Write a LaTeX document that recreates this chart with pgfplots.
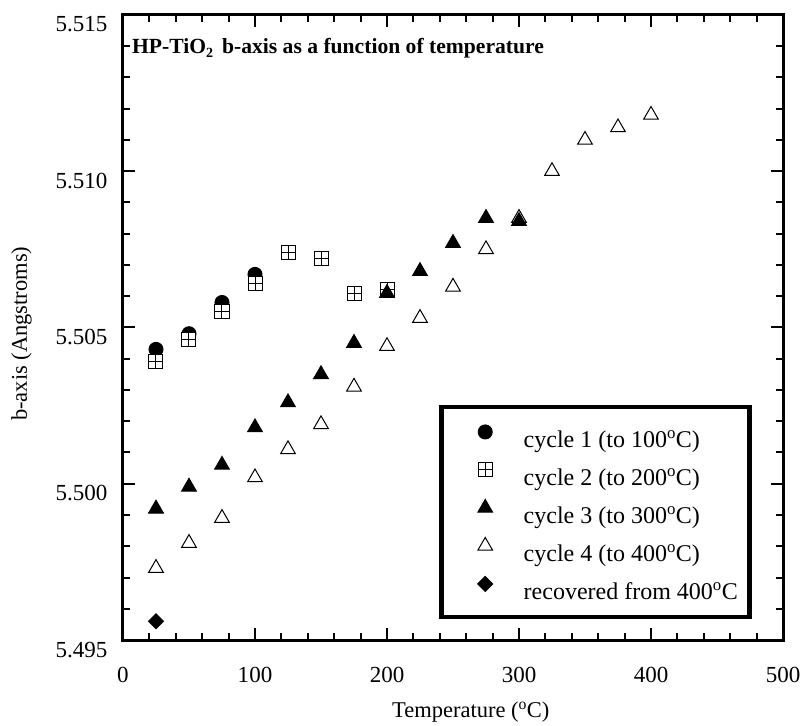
\documentclass[border=0pt]{standalone}
\usepackage{fontspec}
\setmainfont{Liberation Serif}
\usepackage{pgfplots}
\pgfplotsset{compat=1.18}

% open square with a cross, as used for cycle 2
\pgfdeclareplotmark{boxplus}{%
  \pgfpathrectangle{\pgfpoint{-\pgfplotmarksize}{-\pgfplotmarksize}}{\pgfpoint{2\pgfplotmarksize}{2\pgfplotmarksize}}%
  \pgfusepathqfillstroke
  \pgfpathmoveto{\pgfpoint{-\pgfplotmarksize}{0pt}}\pgfpathlineto{\pgfpoint{\pgfplotmarksize}{0pt}}%
  \pgfpathmoveto{\pgfpoint{0pt}{-\pgfplotmarksize}}\pgfpathlineto{\pgfpoint{0pt}{\pgfplotmarksize}}%
  \pgfusepathqstroke}

\pgfplotsset{
  pt/.style={only marks, black, line width=1pt,
    legend image code/.code={%
      \path (-23pt,4pt) (17pt,4pt);
      \draw[mark repeat=2,mark phase=2,##1] plot coordinates {(0pt,4pt)(8.5pt,4pt)(17pt,4pt)};}},
}

\begin{document}
\begin{tikzpicture}
\useasboundingbox (-123pt,-85pt) rectangle (682pt,640pt);
\begin{axis}[
    scale only axis,
    width=660pt, height=625pt,
    xmin=0, xmax=500,
    ymin=5.495, ymax=5.515,
    xtick={0,100,200,300,400,500},
    ytick={5.495,5.5,5.505,5.51,5.515},
    minor x tick num=4,
    minor y tick num=4,
    scaled y ticks=false,
    tick align=inside,
    major tick length=12pt,
    minor tick length=7pt,
    every tick/.style={black, line width=2pt},
    axis line style={line width=3pt},
    /pgf/number format/assume math mode=true,
    y tick label style={/pgf/number format/fixed, /pgf/number format/fixed zerofill, /pgf/number format/precision=3},
    tick label style={font=\fontsize{23}{25}\selectfont},
    xticklabel style={anchor=base, yshift=-42pt},
    yticklabel style={anchor=base east, xshift=-12pt, yshift=-17pt},
    xlabel={Temperature (\textsuperscript{o}C)},
    ylabel={b-axis (Angstroms)},
    label style={font=\fontsize{22.5}{24}\selectfont},
    xlabel style={at={(axis description cs:0.527,-0.1232)}, anchor=base},
    ylabel style={at={(axis description cs:-0.1455,0.49)}, anchor=base},
    legend cell align=left,
    legend style={at={(rel axis cs:0.4795,0.3765)}, anchor=north west,
      draw=black, line width=4.5pt,
      inner xsep=11.5pt, inner ysep=11pt,
      column sep=29.5pt, row sep=2pt,
      font=\fontsize{24}{26}\selectfont,
      nodes={inner xsep=0pt, inner ysep=0pt, text height=30pt, text depth=6pt}},
]
\addplot[pt, mark=*, mark size=7pt] coordinates {
 (25,5.5043) (50,5.5048) (75,5.5058) (100,5.5067)
};
\addlegendentry{cycle 1 (to 100\textsuperscript{o}C)}
\addplot[pt, mark=boxplus, mark size=7pt, mark options={fill=white}] coordinates {
 (25,5.5039) (50,5.5046) (75,5.5055) (100,5.5064)
 (125,5.5074) (150,5.5072) (175,5.5061) (200,5.5062)
};
\addlegendentry{cycle 2 (to 200\textsuperscript{o}C)}
\addplot[pt, mark=triangle*, mark size=8.5pt] coordinates {
 (25,5.4992) (50,5.4999) (75,5.5006) (100,5.5018) (125,5.5026) (150,5.5035)
 (175,5.5045) (200,5.5061) (225,5.5068) (250,5.5077) (275,5.5085) (300,5.5084)
};
\addlegendentry{cycle 3 (to 300\textsuperscript{o}C)}
\addplot[pt, mark=triangle, mark size=8.5pt] coordinates {
 (25,5.4973) (50,5.4981) (75,5.4989) (100,5.5002) (125,5.5011) (150,5.5019)
 (175,5.5031) (200,5.5044) (225,5.5053) (250,5.5063) (275,5.5075) (300,5.5085)
 (325,5.5100) (350,5.5110) (375,5.5114) (400,5.5118)
};
\addlegendentry{cycle 4 (to 400\textsuperscript{o}C)}
\addplot[pt, mark=square*, mark size=5.3pt, mark options={rotate=45}] coordinates {
 (25,5.4956)
};
\addlegendentry{recovered from 400\textsuperscript{o}C}
\node[anchor=base west, inner sep=0pt, font=\bfseries\fontsize{21.6}{24}\selectfont]
  at (rel axis cs:0.0135,0.939) {HP-TiO\raisebox{-0.45ex}{\fontsize{14}{16}\selectfont 2}\, b-axis as a function of temperature};
\end{axis}
\end{tikzpicture}
\end{document}
